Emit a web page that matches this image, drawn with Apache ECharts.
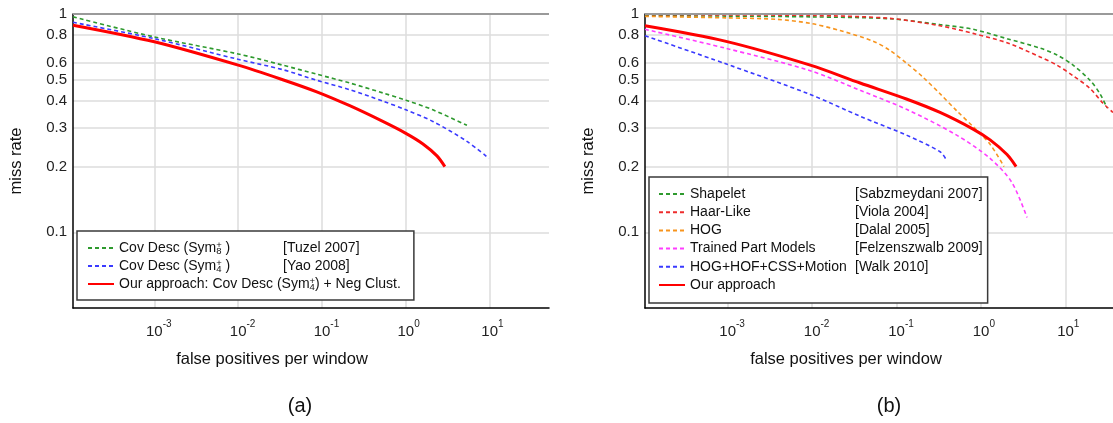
<!DOCTYPE html>
<html><head><meta charset="utf-8">
<script src="https://cdn.jsdelivr.net/npm/echarts@6/dist/echarts.min.js"></script>
<style>html,body{margin:0;padding:0;background:#fff}#c{width:1113px;height:423px}</style>
</head><body><div id="c"></div>
<script>
// ---------- data ----------
const yTicks = [0.1, 0.2, 0.3, 0.4, 0.5, 0.6, 0.8, 1];
const xTicks = [1e-3, 1e-2, 1e-1, 1, 10];
const xTitle = 'false positives per window';
const yTitle = 'miss rate';
const captions = ['(a)', '(b)'];

// chart (a)
const aNames = ['Cov Desc (Sym₈⁺)', 'Cov Desc (Sym₄⁺)', 'Our approach: Cov Desc (Sym₄⁺) + Neg Clust.'];
const aParts = [['Cov Desc (Sym', '+', '8', ' )'], ['Cov Desc (Sym', '+', '4', ' )'], ['Our approach: Cov Desc (Sym', '+', '4', ') + Neg Clust.']];
const aCites = ['[Tuzel 2007]', '[Yao 2008]', ''];
const aTuzel = [[1.07e-4,0.97],[1e-3,0.785],[1e-2,0.656],[0.034,0.583],[0.0865,0.53],[0.214,0.483],[0.531,0.435],[1,0.403],[2.1,0.364],[5.35,0.309]];
const aYao = [[1.07e-4,0.916],[1e-3,0.771],[1e-2,0.62],[0.034,0.556],[0.0865,0.497],[0.214,0.45],[0.531,0.399],[1,0.364],[2.1,0.322],[5.35,0.261],[9.8,0.218]];
const aOurs = [[1.07e-4,0.889],[1e-3,0.746],[1e-2,0.583],[0.034,0.5],[0.0865,0.44],[0.214,0.38],[0.531,0.322],[1,0.284],[1.6,0.254],[2.35,0.224],[2.92,0.2]];

// chart (b)
const bNames = ['Shapelet', 'Haar-Like', 'HOG', 'Trained Part Models', 'HOG+HOF+CSS+Motion', 'Our approach'];
const bCites = ['[Sabzmeydani 2007]', '[Viola 2004]', '[Dalal 2005]', '[Felzenszwalb 2009]', '[Walk 2010]', ''];
const bShapelet = [[1.05e-4,0.982],[1e-3,0.978],[1e-2,0.97],[0.0838,0.951],[0.327,0.894],[0.804,0.851],[2.03,0.771],[4.99,0.698],[7.93,0.649],[12.3,0.583],[19.5,0.497],[25.6,0.431],[31,0.371]];
const bHaar = [[1.05e-4,0.994],[1e-3,0.99],[1e-2,0.985],[0.0838,0.955],[0.327,0.883],[0.804,0.815],[2.03,0.738],[4.99,0.636],[7.93,0.583],[12.3,0.521],[19.5,0.456],[27.8,0.39],[36.5,0.354]];
const bHog = [[1.05e-4,0.975],[1e-3,0.96],[3.9e-3,0.945],[0.0095,0.906],[0.0214,0.84],[0.0527,0.751],[0.0838,0.68],[0.133,0.593],[0.206,0.513],[0.327,0.431],[0.52,0.359],[0.804,0.305],[1.28,0.253],[1.87,0.2]];
const bParts = [[1.05e-4,0.851],[9.3e-4,0.698],[0.0095,0.55],[0.037,0.447],[0.133,0.365],[0.52,0.278],[1.28,0.218],[2.3,0.17],[3.5,0.117]];
const bWalk = [[1.05e-4,0.795],[9.3e-4,0.593],[0.0095,0.428],[0.037,0.34],[0.133,0.278],[0.327,0.234],[0.385,0.216]];
const bOurs = [[1.05e-4,0.883],[9.3e-4,0.751],[0.0095,0.583],[0.037,0.483],[0.133,0.407],[0.327,0.354],[0.804,0.297],[1.28,0.265],[2.03,0.227],[2.6,0.2]];

// ---------- helpers ----------
const FONT = '"Liberation Sans", Arial, sans-serif';
const mctx = document.createElement('canvas').getContext('2d');
function tw(t, s) { mctx.font = s + 'px ' + FONT; return mctx.measureText(t).width; }

function line(name, data, color, dashed, gi) {
  return {
    type: 'line', name, data, xAxisIndex: gi, yAxisIndex: gi,
    showSymbol: false, symbol: 'none', smooth: 0.3, silent: true,
    lineStyle: { color, width: dashed ? 1.6 : 3, type: dashed ? [4, 3] : 'solid' },
    itemStyle: { color }, z: dashed ? 2 : 3
  };
}
function xLabel(v) {
  const e = Math.round(Math.log10(v));
  return '{p|' + e + '}{b|10}{s|' + e + '}';
}
function yLabel(v) { return String(+(+v).toPrecision(3)); }

const xRich = {
  p: { fontSize: 10, color: 'rgba(0,0,0,0)', lineHeight: 10, verticalAlign: 'top' },
  b: { fontSize: 15, color: '#222', lineHeight: 20, verticalAlign: 'bottom' },
  s: { fontSize: 10, color: '#222', lineHeight: 10, verticalAlign: 'top' }
};

function xAxis(gi, min, max, shift) {
  return {
    type: 'log', logBase: 10, gridIndex: gi, min, max,
    axisLine: { show: true, onZero: false, lineStyle: { color: '#000', width: 1.5 } },
    axisTick: { show: false, customValues: xTicks },
    axisLabel: { customValues: xTicks, formatter: xLabel, rich: xRich, margin: 11 },
    splitLine: { show: true, lineStyle: { color: '#dcdcdc', width: 1.5 } },
    name: xTitle, nameLocation: 'middle', nameGap: 43,
    nameTextStyle: { fontSize: 16.5, color: '#111', padding: [0, shift, 0, 0] }
  };
}
function yAxis(gi) {
  return {
    type: 'log', logBase: 10, gridIndex: gi, min: 0.045, max: 1,
    axisLine: { show: true, onZero: false, lineStyle: { color: '#000', width: 1.5 } },
    axisTick: { show: false, customValues: yTicks },
    axisLabel: { customValues: yTicks, formatter: yLabel, fontSize: 15, color: '#222', margin: 6 },
    splitLine: { show: true, lineStyle: { color: '#dcdcdc', width: 1.5 } },
    name: yTitle, nameLocation: 'middle', nameGap: 48,
    nameTextStyle: { fontSize: 16.5, color: '#111' }
  };
}
const topLine = { silent: true, symbol: 'none', label: { show: false },
  lineStyle: { color: '#9a9a9a', width: 2, type: 'solid' }, data: [{ yAxis: 1 }] };

// legend (a) rich text
const aColX = 164;
const aRich = {
  t: { fontSize: 14, lineHeight: 16, color: '#111' },
  sp: { fontSize: 9.5, lineHeight: 8, verticalAlign: 'top', width: 0, color: '#111' },
  sb: { fontSize: 9.5, lineHeight: 8, verticalAlign: 'bottom', color: '#111' },
  c: { fontSize: 14, lineHeight: 16, color: '#111' }
};
aParts.forEach((p, i) => {
  const w = tw(p[0], 14) + tw(p[2], 9.5) + tw(p[3], 14);
  aRich['g' + i] = { width: Math.max(1, aColX - w), lineHeight: 16, fontSize: 14 };
});
function aFmt(name) {
  const i = aNames.indexOf(name), p = aParts[i];
  let s = '{t|' + p[0] + '}{sp|' + p[1] + '}{sb|' + p[2] + '}{t|' + p[3] + '}';
  if (aCites[i]) s += '{g' + i + '| }{c|' + aCites[i] + '}';
  return s;
}
const bRich = {
  n: { fontSize: 14, lineHeight: 16, color: '#111', width: 165 },
  t: { fontSize: 14, lineHeight: 16, color: '#111' },
  c: { fontSize: 14, lineHeight: 16, color: '#111' }
};
function bFmt(name) {
  const i = bNames.indexOf(name);
  return bCites[i] ? '{n|' + name + '}{c|' + bCites[i] + '}' : '{t|' + name + '}';
}

const s = [
  line(aNames[0], aTuzel, '#2e9a2e', true, 0),
  line(aNames[1], aYao, '#3a3aff', true, 0),
  line(aNames[2], aOurs, '#ff0000', false, 0),
  line(bNames[0], bShapelet, '#2e9a2e', true, 1),
  line(bNames[1], bHaar, '#ee2c2c', true, 1),
  line(bNames[2], bHog, '#f7941d', true, 1),
  line(bNames[3], bParts, '#ff3dff', true, 1),
  line(bNames[4], bWalk, '#3a3aff', true, 1),
  line(bNames[5], bOurs, '#ff0000', false, 1)
];
s[0].markLine = topLine;
s[3].markLine = topLine;

const hiddenSym = { color: 'rgba(0,0,0,0)', borderColor: 'rgba(0,0,0,0)', borderWidth: 0, opacity: 0 };
const option = {
  animation: false,
  backgroundColor: '#fff',
  textStyle: { fontFamily: FONT },
  grid: [
    { left: 73, top: 14, width: 476, height: 294 },
    { left: 645, top: 14, width: 468, height: 294 }
  ],
  xAxis: [xAxis(0, 1.07e-4, 51, 78), xAxis(1, 1.05e-4, 36.5, 66)],
  yAxis: [yAxis(0), yAxis(1)],
  legend: [
    { data: aNames, orient: 'vertical', left: 77, top: 231, padding: [9, 13, 8, 10],
      itemWidth: 26, itemHeight: 14, itemGap: 2, selectedMode: false, itemStyle: hiddenSym,
      backgroundColor: '#fff', borderColor: '#3a3a3a', borderWidth: 1.5,
      formatter: aFmt, textStyle: { rich: aRich, fontSize: 14 } },
    { data: bNames, orient: 'vertical', left: 649, top: 177, padding: [10, 5, 11, 9],
      itemWidth: 26, itemHeight: 14, itemGap: 4.2, selectedMode: false, itemStyle: hiddenSym,
      backgroundColor: '#fff', borderColor: '#3a3a3a', borderWidth: 1.5,
      formatter: bFmt, textStyle: { rich: bRich, fontSize: 14 } }
  ],
  graphic: [
    { type: 'text', x: 300, y: 406, style: { text: captions[0], font: '20px ' + FONT, fill: '#111', align: 'center', verticalAlign: 'middle' } },
    { type: 'text', x: 889, y: 406, style: { text: captions[1], font: '20px ' + FONT, fill: '#111', align: 'center', verticalAlign: 'middle' } }
  ],
  series: s
};
const chart = echarts.init(document.getElementById('c'), null, { renderer: 'canvas' });
chart.setOption(option);
</script></body></html>
